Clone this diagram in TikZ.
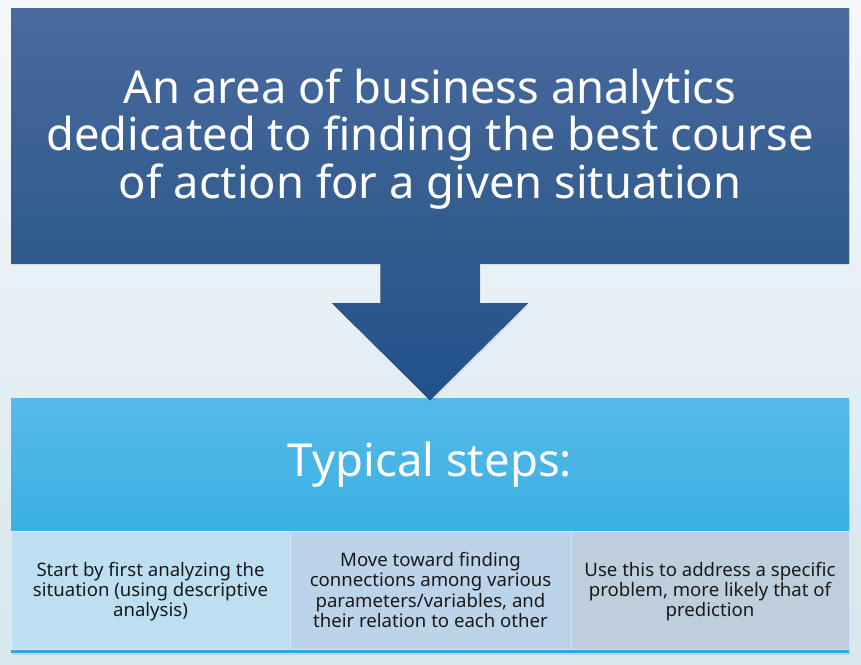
\documentclass[tikz,border=0pt]{standalone}
\usepackage{fontspec}
\setmainfont{Noto Sans}
\usetikzlibrary{shadows}
\definecolor{bgtop}{HTML}{F5F8FA}
\definecolor{bgbot}{HTML}{D6E7ED}
\definecolor{navytop}{HTML}{4A6A9E}
\definecolor{navybot}{HTML}{2F5A8C}
\definecolor{arrtop}{HTML}{2E5B8F}
\definecolor{arrbot}{HTML}{22508A}
\definecolor{skytop}{HTML}{56BAE8}
\definecolor{skybot}{HTML}{3AB0E3}
\definecolor{strip}{HTML}{2BAAE0}
\definecolor{cella}{HTML}{BEDFF2}
\definecolor{cellb}{HTML}{BCD4EA}
\definecolor{cellc}{HTML}{BFCEDD}
\begin{document}
\begin{tikzpicture}[x=1pt,y=1pt,line join=round,
	box/.style={rectangle,inner sep=0pt,outer sep=0pt,align=center},
	shade/.style={drop shadow={opacity=0.18,shadow xshift=1pt,shadow yshift=-2pt}},
	cellbox/.style={box,minimum height=118pt,draw=white!40!#1,line width=0.6pt,fill=#1,
		text=black!90,font=\fontsize{18.6}{20.2}\selectfont}]
		\useasboundingbox (0,0) rectangle (861,-664);
		\shade[top color=bgtop,bottom color=bgbot] (0,0) rectangle (861,-664);
		% top box
		\node[box,shade,minimum width=838pt,minimum height=255pt,top color=navytop,bottom color=navybot,
			text=white,text depth=4.5pt,font=\fontsize{45.3}{47.5}\selectfont] (area) at (430,-135.5)
			{An area of business analytics\\dedicated to finding the best course\\of action for a given situation};
		% header of the steps
		\node[box,shade,minimum width=838pt,minimum height=255pt,fill=strip] (frame) at (430,-525.5) {};
		\node[box,minimum width=838pt,minimum height=133pt,top color=skytop,bottom color=skybot,
			text=white,font=\fontsize{45.5}{52}\selectfont,anchor=north] (steps) at (430,-398) {Typical steps:};
		\node[cellbox=cella,minimum width=279pt,anchor=north west,text depth=1pt] (stepa) at (11,-531)
			{Start by first analyzing the\\situation (using descriptive\\analysis)};
		\node[cellbox=cellb,minimum width=281pt,anchor=north west] (stepb) at (stepa.north east)
			{Move toward finding\\connections among various\\parameters/variables, and\\their relation to each other};
		\node[cellbox=cellc,minimum width=278pt,anchor=north west,text depth=1pt] (stepc) at (stepb.north east)
			{Use this to address a specific\\problem, more likely that of\\prediction};
		% block arrow
		\coordinate (tip) at (steps.north);
		\fill[shade,top color=arrtop,bottom color=arrbot] ([xshift=-49.5pt]area.south) -- ++(0,-40) -- (332,-303)
			-- ([yshift=-2pt]tip) -- (528,-303) -- ([xshift=49.5pt,yshift=-40pt]area.south) -- ([xshift=49.5pt]area.south) -- cycle;
		\end{tikzpicture}
\end{document}
